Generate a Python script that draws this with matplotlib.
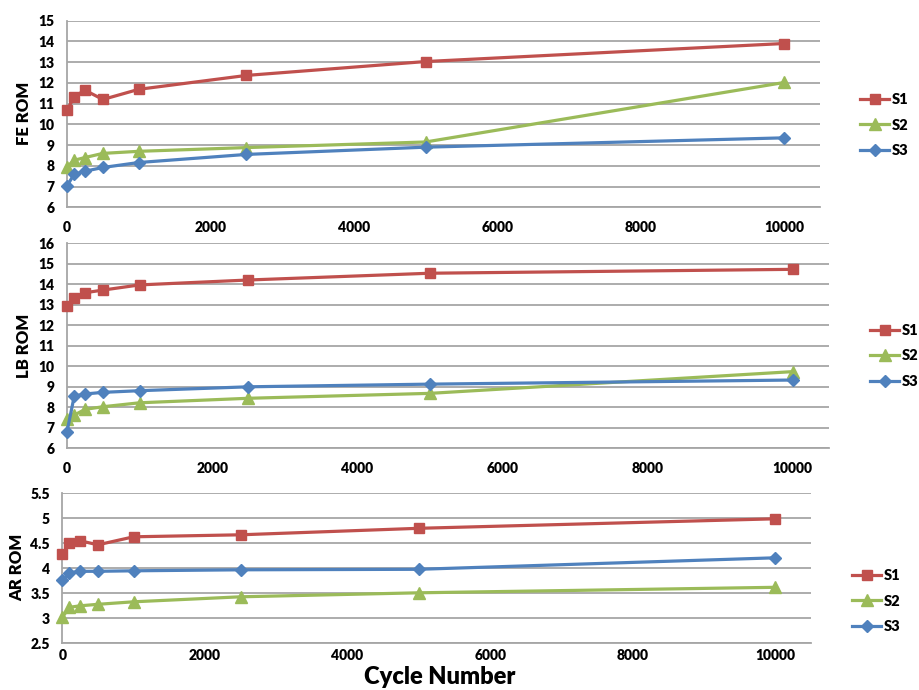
import matplotlib
matplotlib.use("Agg")
from matplotlib import pyplot as plt

plt.rcParams['font.family'] = ['Lato', 'DejaVu Sans']
plt.rcParams['font.weight'] = 'heavy'

# cycle numbers
cycles = [0, 100, 250, 500, 1000, 2500, 5000, 10000]

# FE ROM
fe_s1 = [10.67, 11.33, 11.65, 11.2, 11.69, 12.36, 13.03, 13.9]
fe_s2 = [7.95, 8.27, 8.4, 8.6, 8.7, 8.88, 9.15, 12.02]
fe_s3 = [7.03, 7.6, 7.74, 7.92, 8.16, 8.55, 8.9, 9.35]

# LB ROM
lb_s1 = [12.94, 13.35, 13.59, 13.72, 13.97, 14.21, 14.54, 14.73]
lb_s2 = [7.41, 7.62, 7.9, 8.03, 8.22, 8.44, 8.68, 9.74]
lb_s3 = [6.81, 8.55, 8.65, 8.73, 8.81, 9.0, 9.13, 9.33]

# AR ROM
ar_s1 = [4.28, 4.5, 4.55, 4.47, 4.63, 4.67, 4.8, 4.99]
ar_s2 = [3.02, 3.22, 3.25, 3.28, 3.33, 3.43, 3.51, 3.62]
ar_s3 = [3.76, 3.91, 3.94, 3.94, 3.95, 3.97, 3.98, 4.21]

series_names = ["S1", "S2", "S3"]
colors = ["#C0504D", "#9BBB59", "#4F81BD"]
markers = ["s", "^", "D"]
msizes = [7.5, 8, 6.5]
grid_col = "#A6A6A6"

W, H = 919, 690
fig = plt.figure(figsize=(W / 100, H / 100), dpi=100)


def px_axes(left, top, right, bottom):
    return fig.add_axes([left / W, 1 - bottom / H, (right - left) / W, (bottom - top) / H])


panels = [
    # axes box px, ylim, yticks, ylabel, ylabel pos px, legend pos px, xtick pad
    ((67, 20.7, 820, 207.3), (6, 15), range(6, 16), "FE ROM", (24, 113), (860, 125), 10),
    ((67, 243.3, 829, 448.3), (6, 16), range(6, 17), "LB ROM", (24, 346), (870, 356), 10),
    ((62.3, 493.3, 811, 643.3), (2.5, 5.5), [2.5, 3, 3.5, 4, 4.5, 5, 5.5], "AR ROM", (17, 567), (852, 601), 4),
]
data = [(fe_s1, fe_s2, fe_s3), (lb_s1, lb_s2, lb_s3), (ar_s1, ar_s2, ar_s3)]

for (box, ylim, yt, ylab, lpos, legpos, xpad), ys in zip(panels, data):
    ax = px_axes(*box)
    for y, name, c, m, ms in zip(ys, series_names, colors, markers, msizes):
        ax.plot(cycles, y, color=c, marker=m, markersize=ms, linewidth=2.3,
                label=name, clip_on=False, zorder=3)
    ax.set_xlim(0, 10500)
    ax.set_ylim(*ylim)
    ax.set_xticks([0, 2000, 4000, 6000, 8000, 10000])
    ax.set_yticks(list(yt))
    ax.set_yticklabels([("%g" % v) for v in yt])
    ax.yaxis.grid(True, color=grid_col, linewidth=1.3)
    ax.set_axisbelow(True)
    for s in ("top", "right"):
        ax.spines[s].set_visible(False)
    for s in ("left", "bottom"):
        ax.spines[s].set_color(grid_col)
        ax.spines[s].set_linewidth(1.3)
    ax.tick_params(axis="y", length=0, pad=9, labelsize=10)
    ax.tick_params(axis="x", length=0, pad=xpad, labelsize=10)
    fig.text(lpos[0] / W, 1 - lpos[1] / H, ylab, rotation=90, ha="center", va="center",
             fontsize=12, fontweight="heavy")
    ax.legend(loc="center left", bbox_to_anchor=(legpos[0] / W, 1 - legpos[1] / H),
              bbox_transform=fig.transFigure, frameon=False, fontsize=10.5,
              borderpad=0, borderaxespad=0, handlelength=2.0, handletextpad=0.15,
              labelspacing=0.85)

fig.text(440 / W, 1 - 677 / H, "Cycle Number", ha="center", va="center",
         fontsize=17, fontweight="heavy")

fig.savefig("out.png", dpi=100)
